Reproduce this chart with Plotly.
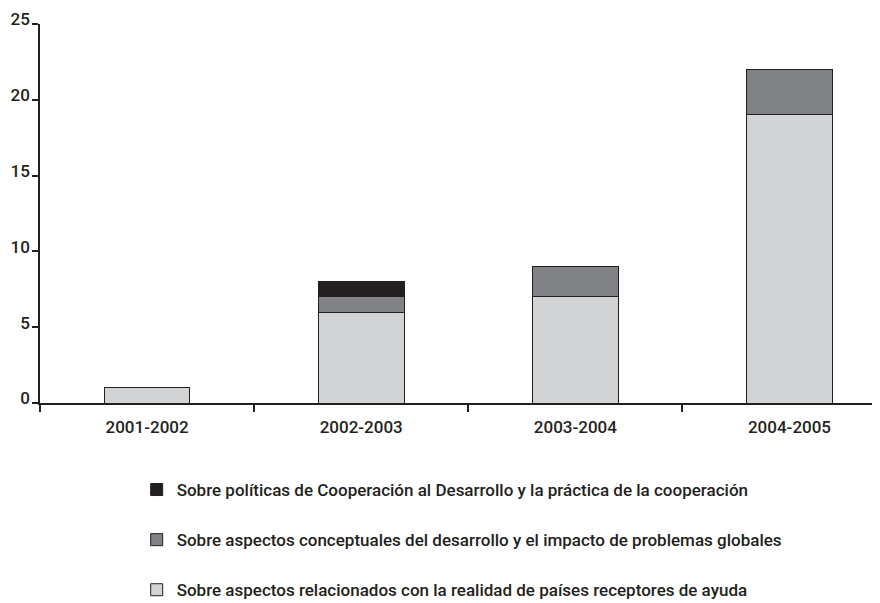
import plotly.graph_objects as go

categories = ["2001-2002", "2002-2003", "2003-2004", "2004-2005"]
realidad = [1, 6, 7, 19]
conceptuales = [0, 1, 2, 3]
politicas = [0, 1, 0, 0]

names = [
    "Sobre aspectos relacionados con la realidad de países receptores de ayuda",
    "Sobre aspectos conceptuales del desarrollo y el impacto de problemas globales",
    "Sobre políticas de Cooperación al Desarrollo y la práctica de la cooperación",
]
colors = ["#d1d3d4", "#808285", "#231f20"]
ink = "#231f20"
font = dict(family="Roboto", size=17, color=ink, weight=500)

fig = go.Figure()
for i, (vals, name, col) in enumerate(zip([realidad, conceptuales, politicas], names, colors)):
    fig.add_trace(go.Bar(
        x=categories, y=vals, name=name, legendgroup=f"g{i}",
        legendrank=1000 - i,
        marker=dict(color=col, line=dict(color=ink, width=1)),
        width=0.4,
    ))

fig.update_layout(
    barmode="stack",
    width=880, height=603,
    margin=dict(l=32, r=0, t=16, b=208, autoexpand=False),
    plot_bgcolor="white", paper_bgcolor="white",
    font=font,
    showlegend=True,
    legend=dict(
        x=0.114, y=-0.182, xanchor="left", yanchor="top",
        traceorder="grouped", tracegroupgap=25,
        font=font, bgcolor="rgba(0,0,0,0)",
    ),
    xaxis=dict(
        type="category", range=[-0.5, 3.46], automargin=False,
        showline=True, linecolor=ink, linewidth=1.5,
        ticks="outside", ticklen=7, tickcolor=ink, tickwidth=1.5,
        tickson="boundaries", showgrid=False, zeroline=False,
        tickfont=font, ticklabelstandoff=8,
    ),
    yaxis=dict(
        range=[0, 25], tick0=0, dtick=5, automargin=False,
        showline=True, linecolor=ink, linewidth=1.5,
        ticks="outside", ticklen=6, tickcolor=ink, tickwidth=1.5,
        ticklabelposition="outside top", ticklabelstandoff=5,
        ticklabelshift=8,
        showgrid=False, zeroline=False, tickfont=font,
    ),
)

fig.write_html("out.html")
